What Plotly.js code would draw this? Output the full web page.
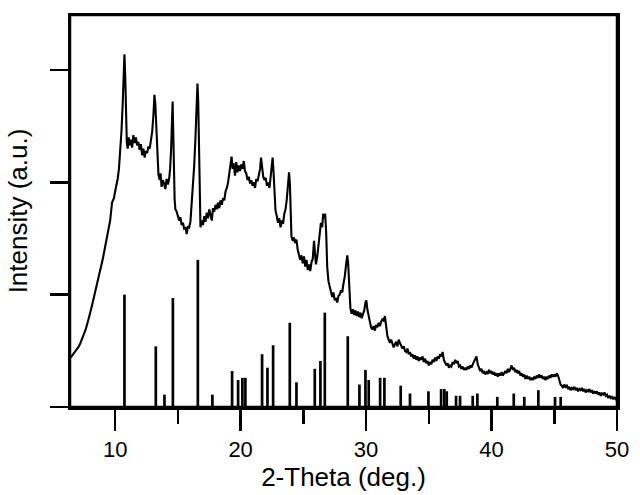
<!DOCTYPE html>
<html>
<head>
<meta charset="utf-8">
<script src="https://cdn.plot.ly/plotly-3.0.1.min.js"></script>
<style>html,body{margin:0;padding:0;background:#fff;}#chart{width:640px;height:495px;}</style>
</head>
<body>
<div id="chart"></div>
<script>
// Measured pattern: 2-theta (deg) and intensity (a.u.)
const twoTheta = [
6.45,6.6,6.75,6.9,7.05,7.2,7.35,7.5,7.65,7.8,7.95,8.1,8.25,8.4,8.55,8.7,8.85,9.0,9.15,9.3,9.45,9.6,9.75,9.9,10.05,10.2,10.3,10.4,10.5,10.6,10.68,10.74,10.8,10.87,10.93,
11.0,11.08,11.15,11.25,11.35,11.45,11.55,11.65,11.75,11.85,11.95,12.05,12.15,12.25,12.35,12.45,12.55,12.65,12.75,12.85,12.95,13.05,13.13,13.2,13.28,13.36,13.45,13.55,13.62,13.7,13.8,13.9,
14.0,14.1,14.2,14.3,14.38,14.46,14.53,14.58,14.63,14.68,14.74,14.8,14.9,15.0,15.1,15.2,15.3,15.4,15.5,15.6,15.7,15.8,15.9,16.0,16.1,16.2,16.3,16.4,16.48,16.56,16.62,16.68,16.74,16.8,16.9,
17.0,17.1,17.2,17.3,17.4,17.5,17.6,17.7,17.8,17.9,18.0,18.1,18.2,18.3,18.4,18.5,18.6,18.7,18.8,18.9,19.0,19.1,19.2,19.28,19.36,19.45,19.55,19.65,19.75,19.85,19.95,
20.05,20.15,20.25,20.35,20.45,20.55,20.65,20.75,20.85,20.95,21.05,21.15,21.25,21.35,21.45,21.55,21.63,21.7,21.8,21.9,22.0,22.1,22.2,22.3,22.4,22.48,22.55,22.62,22.7,22.78,22.88,22.98,
23.08,23.18,23.28,23.38,23.48,23.58,23.68,23.78,23.86,23.93,24.0,24.05,24.15,24.25,24.35,24.45,24.55,24.65,24.75,24.85,24.95,25.05,25.15,25.25,25.35,25.45,25.55,25.65,25.75,25.85,25.92,
26.0,26.1,26.2,26.3,26.4,26.5,26.58,26.66,26.74,26.82,26.9,27.0,27.1,27.2,27.3,27.4,27.5,27.6,27.7,27.8,27.9,28.0,28.1,28.2,28.3,28.4,28.5,28.57,28.65,28.75,28.85,28.95,
29.05,29.15,29.25,29.35,29.45,29.55,29.65,29.75,29.85,29.95,30.02,30.1,30.2,30.3,30.4,30.5,30.6,30.7,30.8,30.9,31.0,31.1,31.2,31.3,31.4,31.5,31.6,31.7,31.8,31.9,
32.0,32.1,32.2,32.3,32.4,32.5,32.6,32.7,32.8,32.9,33.0,33.1,33.2,33.3,33.4,33.5,33.6,33.7,33.8,33.9,34.0,34.1,34.2,34.3,34.4,34.5,34.6,34.7,34.8,34.9,
35.0,35.1,35.2,35.3,35.4,35.5,35.6,35.7,35.8,35.9,36.0,36.1,36.2,36.3,36.4,36.5,36.6,36.7,36.8,36.9,37.0,37.1,37.2,37.3,37.4,37.5,37.6,37.7,37.8,37.9,
38.0,38.1,38.2,38.3,38.4,38.5,38.6,38.7,38.8,38.9,39.0,39.1,39.2,39.3,39.4,39.5,39.6,39.7,39.8,39.9,40.0,40.1,40.2,40.3,40.4,40.5,40.6,40.7,40.8,40.9,
41.0,41.1,41.2,41.3,41.4,41.5,41.6,41.7,41.8,41.9,42.0,42.1,42.2,42.3,42.4,42.5,42.6,42.7,42.8,42.9,43.0,43.1,43.2,43.3,43.4,43.5,43.6,43.7,43.8,43.9,
44.0,44.1,44.2,44.3,44.4,44.5,44.6,44.7,44.8,44.9,45.0,45.1,45.2,45.3,45.4,45.5,45.6,45.7,45.8,45.9,46.0,46.1,46.2,46.3,46.4,46.5,46.6,46.7,46.8,46.9,
47.0,47.1,47.2,47.3,47.4,47.5,47.6,47.7,47.8,47.9,48.0,48.1,48.2,48.3,48.4,48.5,48.6,48.7,48.8,48.9,49.0,49.1,49.2,49.3,49.4,49.5,49.6,49.7,49.8,49.9,50.0
];
const intensity = [
0.44,0.46,0.48,0.51,0.53,0.56,0.60,0.64,0.69,0.75,0.83,0.88,0.95,1.03,1.09,1.16,1.24,1.31,1.40,1.46,1.58,1.66,1.82,1.86,1.95,2.03,2.12,2.25,2.45,2.70,2.95,3.14,2.95,2.62,2.35,
2.30,2.40,2.33,2.38,2.31,2.42,2.35,2.40,2.33,2.36,2.29,2.34,2.24,2.30,2.22,2.28,2.26,2.32,2.30,2.36,2.45,2.60,2.78,2.70,2.48,2.25,2.07,2.02,2.08,1.96,2.02,1.99,
1.94,2.03,1.98,2.03,2.12,2.30,2.55,2.72,2.45,2.08,1.85,1.76,1.74,1.70,1.66,1.69,1.62,1.64,1.59,1.60,1.54,1.61,1.60,1.65,1.80,1.98,2.15,2.40,2.70,2.88,2.72,2.30,1.75,1.60,1.66,
1.62,1.70,1.65,1.73,1.68,1.76,1.72,1.66,1.77,1.74,1.80,1.76,1.82,1.77,1.84,1.80,1.86,1.84,1.92,1.95,2.00,2.08,2.20,2.23,2.12,2.17,2.06,2.18,2.09,2.15,2.10,
2.16,2.12,2.19,2.10,2.08,2.02,2.05,1.99,2.02,1.97,2.00,1.95,2.03,2.01,2.08,2.12,2.22,2.12,2.05,2.02,2.04,1.97,2.00,1.95,2.05,2.15,2.22,2.10,1.90,1.75,1.70,1.64,
1.68,1.60,1.66,1.63,1.72,1.76,1.85,1.98,2.09,1.98,1.70,1.52,1.48,1.51,1.46,1.49,1.40,1.36,1.31,1.35,1.28,1.34,1.25,1.31,1.22,1.27,1.21,1.29,1.32,1.48,1.35,
1.27,1.33,1.42,1.55,1.64,1.60,1.72,1.68,1.72,1.55,1.25,1.12,1.08,1.02,0.98,1.02,0.95,0.97,0.93,0.99,1.00,1.04,1.02,1.10,1.16,1.26,1.35,1.28,1.12,0.88,0.83,0.87,
0.82,0.86,0.81,0.85,0.80,0.84,0.79,0.83,0.86,0.93,0.95,0.87,0.80,0.76,0.71,0.69,0.72,0.68,0.73,0.71,0.75,0.72,0.76,0.78,0.77,0.81,0.72,0.63,0.60,0.57,
0.60,0.55,0.53,0.56,0.58,0.54,0.60,0.57,0.55,0.52,0.54,0.50,0.49,0.52,0.47,0.49,0.45,0.47,0.43,0.46,0.42,0.45,0.41,0.44,0.42,0.45,0.40,0.43,0.39,0.41,
0.37,0.40,0.38,0.42,0.40,0.44,0.41,0.45,0.43,0.47,0.45,0.49,0.42,0.40,0.37,0.39,0.35,0.37,0.36,0.40,0.38,0.42,0.39,0.41,0.36,0.37,0.34,0.36,0.33,0.35,
0.33,0.36,0.34,0.37,0.35,0.38,0.40,0.42,0.45,0.38,0.35,0.32,0.34,0.30,0.32,0.29,0.31,0.30,0.33,0.30,0.32,0.29,0.31,0.28,0.30,0.27,0.30,0.28,0.31,0.28,
0.30,0.32,0.30,0.34,0.31,0.35,0.37,0.33,0.35,0.31,0.33,0.30,0.32,0.28,0.30,0.27,0.29,0.25,0.28,0.25,0.27,0.24,0.26,0.24,0.27,0.25,0.28,0.26,0.29,0.26,
0.28,0.25,0.27,0.24,0.27,0.25,0.28,0.26,0.29,0.27,0.29,0.27,0.30,0.28,0.24,0.20,0.19,0.17,0.20,0.18,0.19,0.16,0.18,0.15,0.17,0.16,0.18,0.15,0.17,0.14,
0.16,0.15,0.17,0.14,0.16,0.13,0.15,0.14,0.16,0.13,0.15,0.12,0.14,0.12,0.14,0.11,0.13,0.10,0.12,0.11,0.13,0.10,0.11,0.08,0.10,0.08,0.09,0.07,0.09,0.07,0.08
];
// Reference stick pattern: positions (deg) and relative heights
const stickPos = [10.74,13.24,13.93,14.6,16.59,17.75,19.32,19.8,20.14,20.38,21.71,22.14,22.59,23.92,24.45,25.91,26.36,26.71,28.54,29.47,29.95,30.21,31.12,31.46,32.76,33.5,34.97,35.98,36.24,36.43,37.17,37.49,38.5,38.87,40.46,41.77,42.61,43.73,45.06,45.51];
const stickHeight = [1.0,0.54,0.11,0.97,1.31,0.11,0.32,0.24,0.26,0.26,0.47,0.35,0.55,0.75,0.22,0.34,0.41,0.84,0.63,0.2,0.33,0.24,0.26,0.26,0.19,0.12,0.14,0.16,0.16,0.14,0.1,0.1,0.1,0.12,0.09,0.12,0.09,0.15,0.09,0.09];
const xTickVals = [10,20,30,40,50];
const xMinorTicks = [15,25,35,45];
const yTickVals = [0,1,2,3];
const xRange = [6.4, 50];

const sx = [], sy = [];
stickPos.forEach((p, i) => { sx.push(p, p, null); sy.push(0, stickHeight[i], null); });

const FONT = 'Liberation Sans, Arial, Helvetica, sans-serif';
const data = [
  {x: twoTheta, y: intensity, type: 'scatter', mode: 'lines', line: {color: '#000', width: 2.1}},
  {x: sx, y: sy, xaxis: 'x2', type: 'scatter', mode: 'lines', line: {color: '#000', width: 2.7}}
];
const layout = {
  width: 640, height: 495,
  margin: {l: 70, r: 23, t: 15, b: 88},
  showlegend: false,
  font: {family: FONT, size: 22, color: '#000'},
  xaxis: {
    range: xRange, tickmode: 'array', tickvals: xTickVals,
    ticks: 'outside', ticklen: 21, tickwidth: 2.5, tickcolor: '#000',
    showline: true, linewidth: 2.5, linecolor: '#000', mirror: true,
    showgrid: false, zeroline: false,
    title: {text: '2-Theta (deg.)', standoff: 0}
  },
  xaxis2: {
    range: xRange, overlaying: 'x', anchor: 'y', side: 'bottom',
    tickmode: 'array', tickvals: xMinorTicks, showticklabels: false,
    ticks: 'outside', ticklen: 16, tickwidth: 2.5, tickcolor: '#000',
    showline: false, showgrid: false, zeroline: false
  },
  yaxis: {
    range: [0, 3.49], tickmode: 'array', tickvals: yTickVals, showticklabels: false,
    ticks: 'outside', ticklen: 18, tickwidth: 2.5, tickcolor: '#000',
    showline: true, linewidth: 2.5, linecolor: '#000', mirror: true,
    showgrid: false, zeroline: false,
    title: {text: 'Intensity (a.u.)', standoff: 15}
  },
  shapes: [{type: 'rect', xref: 'paper', yref: 'paper', x0: 0, x1: 1, y0: 0, y1: 1, line: {color: '#000', width: 2.5}}]
};
Plotly.newPlot('chart', data, layout, {staticPlot: true, displayModeBar: false});
</script>
</body>
</html>
